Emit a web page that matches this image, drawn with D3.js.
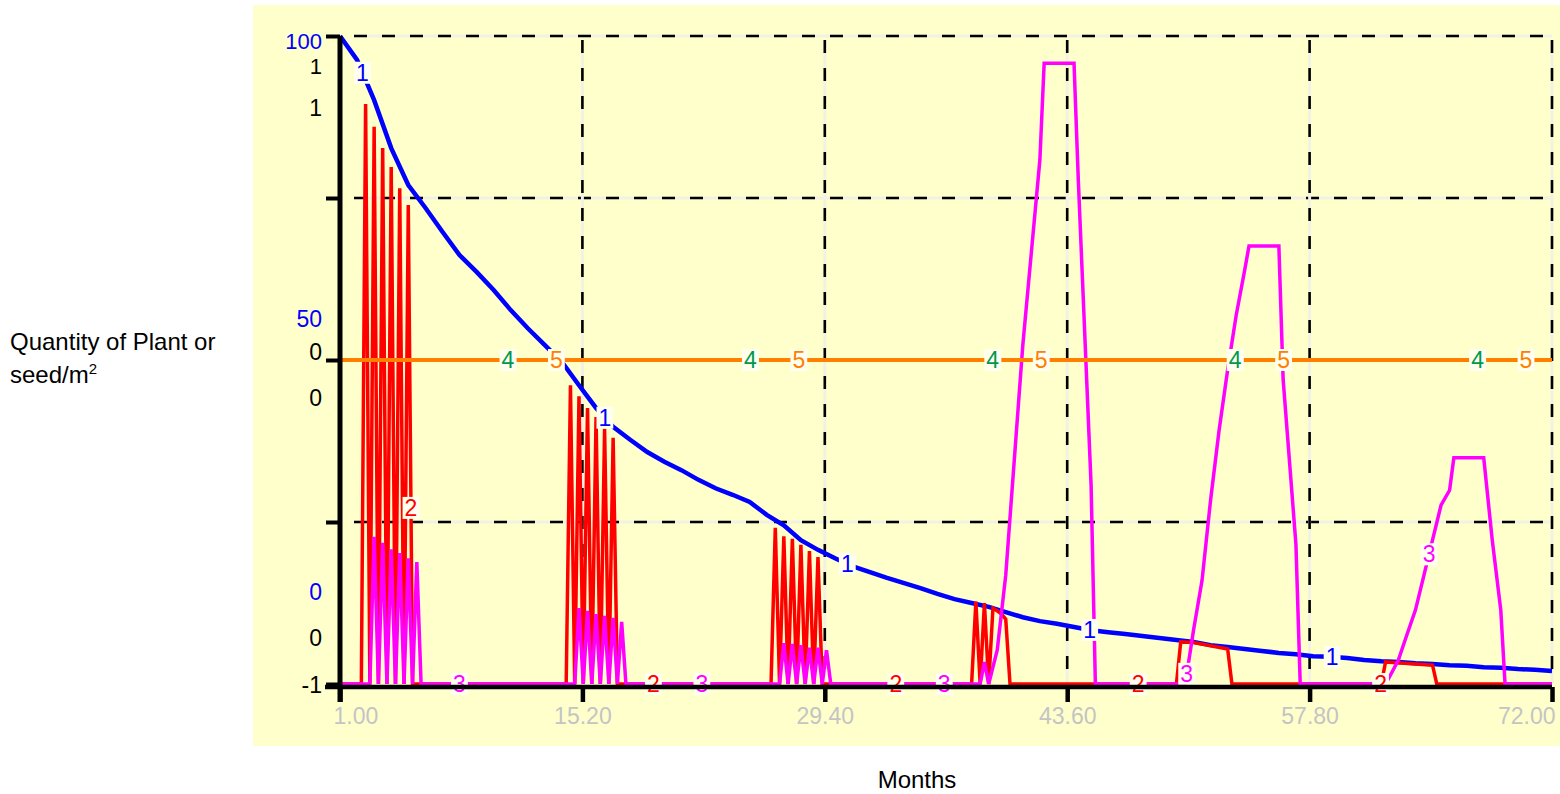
<!DOCTYPE html>
<html>
<head>
<meta charset="utf-8">
<script src="https://cdn.jsdelivr.net/npm/d3@7"></script>
<style>
  body { margin: 0; background: #ffffff; }
  svg { display: block; }
  text { font-family: "Liberation Sans", Arial, Helvetica, sans-serif; }
</style>
</head>
<body>
<svg id="chart" width="1560" height="794"></svg>
<script>
// ---- data -------------------------------------------------------------
// series 1: mature plants per m2, one value per month (0..100 scale)
const months = d3.range(1, 73);
const series1 = [
  100, 96.3, 90.1, 82.7, 77.0, 73.5, 69.8, 66.2, 63.6, 60.8,
  57.7, 54.9, 52.3, 49.7, 46.1, 42.6, 39.7, 37.7, 35.8, 34.3,
  33.0, 31.5, 30.2, 29.2, 28.1, 26.1, 24.5, 22.2, 20.7, 19.4,
  18.2, 17.3, 16.4, 15.6, 14.8, 13.9, 13.1, 12.5, 11.9, 11.1,
  10.3, 9.7, 9.3, 8.8, 8.3, 8.0, 7.7, 7.4, 7.1, 6.8,
  6.5, 6.0, 5.7, 5.4, 5.1, 4.8, 4.6, 4.3, 4.2, 4.0,
  3.7, 3.5, 3.4, 3.2, 3.1, 2.9, 2.8, 2.6, 2.5, 2.3,
  2.2, 2.0
];

// series 2: quarter-month samples where the value changes (0..1 scale)
const series2T = [
  1, 2.25, 2.5, 2.75, 3, 3.25, 3.5, 3.75, 4, 4.25, 4.5, 4.75, 5, 5.25,
  14.25, 14.5, 14.75, 15, 15.25, 15.5, 15.75, 16, 16.25, 16.5, 16.75, 17, 17.25,
  26.25, 26.5, 26.75, 27, 27.25, 27.5, 27.75, 28, 28.25, 28.5, 28.75, 29, 29.25,
  38, 38.25, 38.5, 38.75, 39, 39.25, 39.5, 39.75, 40, 40.25,
  50, 50.25, 51, 52, 53, 53.25,
  62, 62.25, 64, 65, 65.25, 72
];
const series2V = [
  0, 0, 0.895, 0, 0.860, 0, 0.827, 0, 0.798, 0, 0.765, 0, 0.739, 0,
  0, 0.461, 0, 0.444, 0, 0.426, 0, 0.412, 0, 0.394, 0, 0.380, 0,
  0, 0.241, 0, 0.228, 0, 0.224, 0, 0.215, 0, 0.205, 0, 0.196, 0,
  0, 0.127, 0, 0.125, 0, 0.117, 0.113, 0.108, 0.100, 0,
  0, 0.065, 0.064, 0.059, 0.054, 0,
  0, 0.034, 0.031, 0.029, 0, 0
];

// series 3: quarter-month samples where the value changes (0..1 scale)
const series3T = [
  1, 2.75, 3, 3.25, 3.5, 3.75, 4, 4.25, 4.5, 4.75, 5, 5.25, 5.5, 5.75,
  14.75, 15, 15.25, 15.5, 15.75, 16, 16.25, 16.5, 16.75, 17, 17.25, 17.5, 17.75,
  26.75, 27, 27.25, 27.5, 27.75, 28, 28.25, 28.5, 28.75, 29, 29.25, 29.5, 29.75,
  38.5, 38.75, 39, 39.25, 39.5, 39.75, 40, 41, 42, 42.25, 44, 44.25, 45, 45.25,
  50.5, 50.75, 51, 51.5, 52, 52.5, 53, 53.5, 54, 54.25, 56, 56.25, 57, 57.25,
  62.25, 62.5, 63, 63.5, 64, 64.5, 65, 65.5, 66, 66.25, 68, 68.5, 69, 69.25, 72
];
const series3V = [
  0, 0, 0.227, 0, 0.218, 0, 0.208, 0, 0.202, 0, 0.194, 0, 0.188, 0,
  0, 0.117, 0, 0.113, 0, 0.108, 0, 0.105, 0, 0.102, 0, 0.096, 0,
  0, 0.063, 0, 0.062, 0, 0.060, 0, 0.056, 0, 0.056, 0, 0.052, 0,
  0, 0.034, 0, 0.026, 0.052, 0.110, 0.168, 0.523, 0.809, 0.958, 0.958, 0.778, 0.307, 0,
  0, 0.040, 0.083, 0.160, 0.284, 0.392, 0.485, 0.569, 0.639, 0.676, 0.676, 0.470, 0.215, 0,
  0, 0.012, 0.037, 0.076, 0.114, 0.168, 0.222, 0.276, 0.299, 0.349, 0.349, 0.222, 0.114, 0, 0
];

// series 4 and 5: constant, on the -1..1 scale
const flatT = [1, 72];
const series4V = [0, 0];
const series5V = [0, 0];

// axis labels
const xTicks = [1, 15.2, 29.4, 43.6, 57.8, 72];
const gridValues = [25, 50, 75, 100];
const tickLabelsBlue = ["100", "50", "0"];
const tickLabelsA = ["1", "0", "0"];
const tickLabelsB = ["1", "0", "-1"];

// ---- layout -----------------------------------------------------------
const plot = { left: 340, right: 1552, top: 36, bottom: 684 };
const BG = "#ffffcc";
const FONT = 23;

const svg = d3.select("#chart");

const x = d3.scaleLinear().domain([1, 72]).range([plot.left, plot.right]);
const yBlue = d3.scaleLinear().domain([0, 100]).range([plot.bottom, plot.top]);
const yA = d3.scaleLinear().domain([0, 1]).range([plot.bottom, plot.top]);
const yB = d3.scaleLinear().domain([-1, 1]).range([plot.bottom, plot.top]);

// panel background
svg.append("rect")
  .attr("x", 253).attr("y", 5)
  .attr("width", 1307).attr("height", 741)
  .attr("fill", BG);

// ---- grid -------------------------------------------------------------
const grid = svg.append("g");
function gridLine(x1, y1, x2, y2) {
  grid.append("line").attr("x1", x1).attr("y1", y1).attr("x2", x2).attr("y2", y2)
    .attr("stroke", "#f2f2e2").attr("stroke-width", 3);
  grid.append("line").attr("x1", x1).attr("y1", y1).attr("x2", x2).attr("y2", y2)
    .attr("stroke", "#000").attr("stroke-width", 2.6)
    .attr("stroke-dasharray", "13,15");
}
gridValues.forEach(v => gridLine(plot.left + 14, yBlue(v), plot.right, yBlue(v)));
xTicks.slice(1).forEach(t => gridLine(x(t), plot.top + 4, x(t), plot.bottom));

// ---- series -----------------------------------------------------------
const series = [
  { id: "1", t: months,   v: series1,  y: yBlue, color: "#0000ff", width: 4.5 },
  { id: "2", t: series2T, v: series2V, y: yA,    color: "#ff0000", width: 3.5 },
  { id: "3", t: series3T, v: series3V, y: yA,    color: "#ff00ff", width: 3.5 },
  { id: "4", t: flatT,    v: series4V, y: yB,    color: "#00994c", width: 4 },
  { id: "5", t: flatT,    v: series5V, y: yB,    color: "#ff8000", width: 4 }
];

const lines = svg.append("g");
series.forEach(s => {
  const pts = s.t.map((t, i) => [t, s.v[i]]);
  const gen = d3.line().x(d => x(d[0])).y(d => s.y(d[1]));
  lines.append("path")
    .attr("d", gen(pts))
    .attr("fill", "none")
    .attr("stroke", s.color)
    .attr("stroke-width", s.width)
    .attr("stroke-linejoin", "miter")
    .attr("stroke-miterlimit", 2);
});

// value of a series at time t (linear between samples)
function valueAt(s, t) {
  const i = d3.bisectRight(s.t, t);
  if (i <= 0) return s.v[0];
  if (i >= s.t.length) return s.v[s.t.length - 1];
  const t0 = s.t[i - 1], t1 = s.t[i];
  const f = (t - t0) / (t1 - t0);
  return s.v[i - 1] + f * (s.v[i] - s.v[i - 1]);
}

// series number labels, five groups across the plot
const labels = svg.append("g");
const plotW = plot.right - plot.left;
for (let j = 0; j < 5; j++) {
  series.forEach((s, k) => {
    const px = plot.left + plotW * (j / 5 + k / 25) + 22.5;
    const t = x.invert(px);
    const py = s.y(valueAt(s, t));
    const g = labels.append("g");
    const txt = g.append("text")
      .attr("x", px).attr("y", py)
      .attr("text-anchor", "middle")
      .attr("dominant-baseline", "central")
      .attr("font-size", FONT)
      .attr("fill", s.color)
      .text(s.id);
    const bb = txt.node().getBBox();
    g.insert("rect", "text")
      .attr("x", bb.x - 2).attr("y", py - 11)
      .attr("width", bb.width + 4).attr("height", 22)
      .attr("fill", "#fffff0");
  });
}

// ---- axes -------------------------------------------------------------
const axes = svg.append("g");

// y axis ticks (labels are stacked separately below)
const yAxis = d3.axisLeft(yBlue).tickValues([0, 25, 50, 75, 100])
  .tickSize(14).tickSizeOuter(0).tickFormat("");
const gy = axes.append("g").attr("transform", `translate(${plot.left},0)`).call(yAxis);
gy.select(".domain").remove();
gy.selectAll(".tick line").attr("stroke", "#000").attr("stroke-width", 4);

// x axis
const fmt = d3.format(".2f");
const xAxis = d3.axisBottom(x).tickValues(xTicks).tickSize(15).tickSizeOuter(0).tickFormat(fmt);
const gx = axes.append("g").attr("transform", `translate(0,${plot.bottom + 3})`).call(xAxis);
gx.select(".domain").remove();
gx.selectAll(".tick line").attr("stroke", "#000").attr("stroke-width", 4.5);
gx.selectAll(".tick text")
  .attr("font-family", "Liberation Sans, Arial, sans-serif")
  .attr("font-size", FONT)
  .attr("fill", "#c4c4c4")
  .attr("y", 21)
  .attr("text-anchor", (d, i) => i === 0 ? "start" : (i === xTicks.length - 1 ? "end" : "middle"))
  .attr("dx", (d, i) => i === 0 ? -7 : (i === xTicks.length - 1 ? 3 : 0));

// axis lines
axes.append("line")
  .attr("x1", plot.left - 15).attr("x2", plot.right)
  .attr("y1", plot.bottom + 3).attr("y2", plot.bottom + 3)
  .attr("stroke", "#000").attr("stroke-width", 4.5);
axes.append("line")
  .attr("x1", plot.left).attr("x2", plot.left)
  .attr("y1", plot.top).attr("y2", plot.bottom + 18)
  .attr("stroke", "#000").attr("stroke-width", 5);

// stacked scale labels on the left
const stackY = [yBlue(100), yBlue(50), yBlue(0)];
const stackOffsets = [[5, 30, 72], [-41, -8, 38], [-92, -46, 1]];
const stackSets = [
  { labels: tickLabelsBlue, color: "#0000ff" },
  { labels: tickLabelsA, color: "#000000" },
  { labels: tickLabelsB, color: "#000000" }
];
stackY.forEach((yy, i) => {
  stackSets.forEach((set, k) => {
    axes.append("text")
      .attr("x", 322).attr("y", yy + stackOffsets[i][k])
      .attr("text-anchor", "end")
      .attr("dominant-baseline", "central")
      .attr("font-size", i === 0 && k < 2 ? 22 : FONT)
      .attr("fill", set.color)
      .text(set.labels[i]);
  });
});

// axis titles
const yTitle = svg.append("text")
  .attr("x", 10).attr("y", 350)
  .attr("font-size", 24).attr("fill", "#000");
yTitle.append("tspan").attr("x", 10).attr("y", 350).text("Quantity of Plant or");
yTitle.append("tspan").attr("x", 10).attr("y", 383).text("seed/m");
yTitle.append("tspan").attr("font-size", 15).attr("dy", -9).text("2");

svg.append("text")
  .attr("x", 917).attr("y", 788)
  .attr("text-anchor", "middle")
  .attr("font-size", 24).attr("fill", "#000")
  .text("Months");
</script>
</body>
</html>
